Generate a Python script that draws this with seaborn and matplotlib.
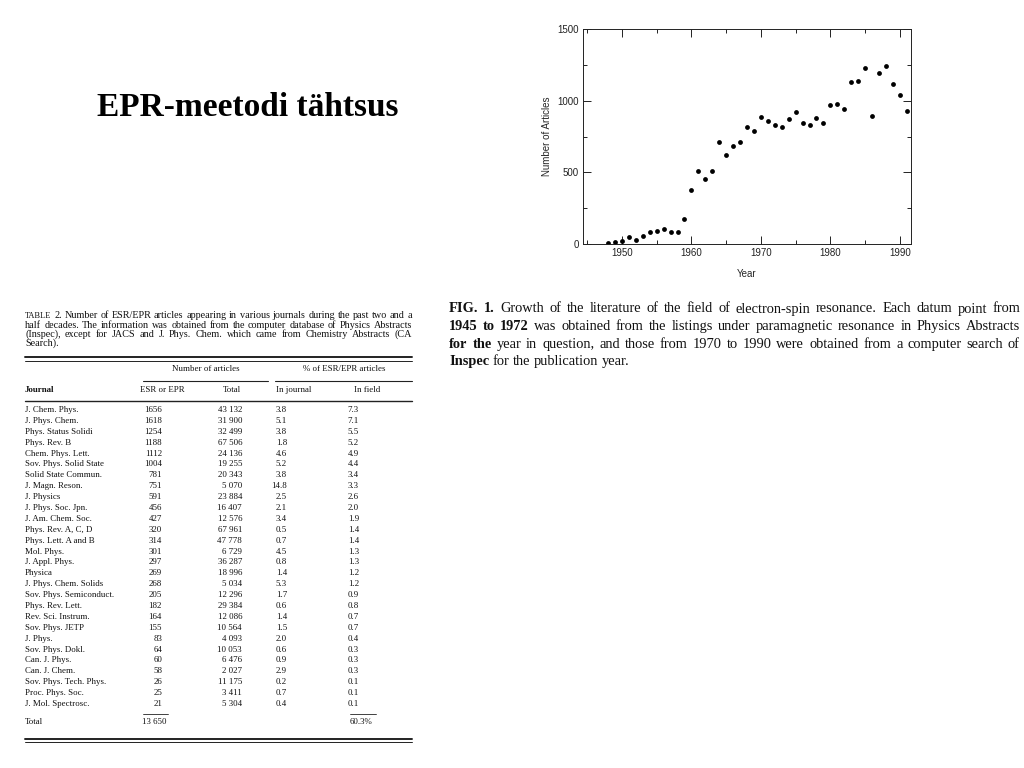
import matplotlib
matplotlib.use("Agg")
import matplotlib.pyplot as plt
from matplotlib.lines import Line2D
from matplotlib.ticker import MultipleLocator
import seaborn as sns
import pandas as pd

# --- data ---
years = list(range(1948, 1992))
articles = [5, 14, 19, 46, 30, 53, 86, 90, 104, 86, 86, 176, 378, 511, 455, 508,
            710, 622, 685, 713, 813, 787, 887, 861, 831, 817, 875, 919, 847, 827,
            882, 843, 973, 975, 940, 1128, 1135, 1231, 892, 1196, 1244, 1117, 1038, 931]

journals = ["J. Chem. Phys.", "J. Phys. Chem.", "Phys. Status Solidi", "Phys. Rev. B",
            "Chem. Phys. Lett.", "Sov. Phys. Solid State", "Solid State Commun.",
            "J. Magn. Reson.", "J. Physics", "J. Phys. Soc. Jpn.", "J. Am. Chem. Soc.",
            "Phys. Rev. A, C, D", "Phys. Lett. A and B", "Mol. Phys.", "J. Appl. Phys.",
            "Physica", "J. Phys. Chem. Solids", "Sov. Phys. Semiconduct.",
            "Phys. Rev. Lett.", "Rev. Sci. Instrum.", "Sov. Phys. JETP", "J. Phys.",
            "Sov. Phys. Dokl.", "Can. J. Phys.", "Can. J. Chem.", "Sov. Phys. Tech. Phys.",
            "Proc. Phys. Soc.", "J. Mol. Spectrosc."]
esr_counts = [1656, 1618, 1254, 1188, 1112, 1004, 781, 751, 591, 456, 427, 320, 314,
              301, 297, 269, 268, 205, 182, 164, 155, 83, 64, 60, 58, 26, 25, 21]
total_articles = [43132, 31900, 32499, 67506, 24136, 19255, 20343, 5070, 23884, 16407,
                  12576, 67961, 47778, 6729, 36287, 18996, 5034, 12296, 29384, 12086,
                  10564, 4093, 10053, 6476, 2027, 11175, 3411, 5304]
pct_journal = [3.8, 5.1, 3.8, 1.8, 4.6, 5.2, 3.8, 14.8, 2.5, 2.1, 3.4, 0.5, 0.7, 4.5,
               0.8, 1.4, 5.3, 1.7, 0.6, 1.4, 1.5, 2.0, 0.6, 0.9, 2.9, 0.2, 0.7, 0.4]
pct_field = [7.3, 7.1, 5.5, 5.2, 4.9, 4.4, 3.4, 3.3, 2.6, 2.0, 1.9, 1.4, 1.4, 1.3, 1.3,
             1.2, 1.2, 0.9, 0.8, 0.7, 0.7, 0.4, 0.3, 0.3, 0.3, 0.1, 0.1, 0.1]
field_total = "60.3%"

title = "EPR-meetodi tähtsus"
# "*" marks a bold word, "^" a small-caps word
table_caption = [
    "^TABLE 2.  Number of ESR/EPR articles appearing in various journals during the past two and a",
    "half decades. The information was obtained from the computer database of Physics Abstracts",
    "(Inspec), except for JACS and J. Phys. Chem. which came from Chemistry Abstracts (CA",
    "Search).",
]
fig_caption = [
    "*FIG. *1.  Growth of the literature of the field of electron-spin resonance. Each datum point from",
    "*1945 *to *1972 was obtained from the listings under paramagnetic resonance in Physics Abstracts",
    "*for *the year in question, and those from 1970 to 1990 were obtained from a computer search of",
    "*Inspec for the publication year.",
]

sns.set_style("ticks")
plt.rcParams["font.family"] = ["Liberation Serif", "DejaVu Serif"]

W, H = 1024, 768
fig = plt.figure(figsize=(W / 100, H / 100), dpi=100)
SERIF = ["Liberation Serif", "DejaVu Serif"]
SANS = ["Liberation Sans", "DejaVu Sans"]


def fx(x):
    return x / W


def fy(y):
    return 1 - y / H


def text(x, y, s, size=6.4, ha="left", weight="normal"):
    fig.text(fx(x), fy(y), s, ha=ha, va="center", fontsize=size,
             family=SERIF, weight=weight, color="#111111")


def hline(x0, x1, y, lw=0.8):
    fig.add_artist(Line2D([fx(x0), fx(x1)], [fy(y), fy(y)], lw=lw,
                          color="#222222", transform=fig.transFigure))


def justified(lines, x0, x1, y0, dy, size):
    r = fig.canvas.get_renderer()
    for i, line in enumerate(lines):
        words = [w for w in line.split(" ") if w != ""]
        items = []
        for w in words:
            bold = w.startswith("*")
            small = w.startswith("^")
            w = w.lstrip("*^")
            t = fig.text(0, 0, w, fontsize=size * (0.82 if small else 1.0),
                         family=SERIF, va="center",
                         weight="bold" if bold else "normal", color="#111111")
            items.append((t, t.get_window_extent(r).width))
        total = sum(wd for _, wd in items)
        last = i == len(lines) - 1
        gap = size * 0.33 if last else (x1 - x0 - total) / max(len(items) - 1, 1)
        x = x0
        for t, wd in items:
            t.set_position((fx(x), fy(y0 + i * dy)))
            x += wd + gap


# --- title ---
fig.text(fx(248), fy(107), title, ha="center", va="center", fontsize=24,
         family=SERIF, weight="bold", color="black")

# --- scatter plot ---
ax = fig.add_axes([fx(583), fy(244), fx(911) - fx(583), fy(29) - fy(244)])
df = pd.DataFrame({"Year": years, "Number of Articles": articles})
sns.scatterplot(data=df, x="Year", y="Number of Articles", ax=ax, color="black",
                s=12, edgecolor="black", linewidth=0)
ax.set_xlim(1944.4, 1991.6)
ax.set_ylim(0, 1500)
ax.xaxis.set_major_locator(MultipleLocator(10))
ax.xaxis.set_minor_locator(MultipleLocator(5))
ax.yaxis.set_major_locator(MultipleLocator(500))
ax.yaxis.set_minor_locator(MultipleLocator(250))
ax.tick_params(which="both", direction="in", top=True, right=True, width=0.7,
               labelsize=7, pad=3, colors="#222222")
ax.tick_params(which="major", length=6)
ax.tick_params(which="minor", length=3)
for lab in ax.get_xticklabels() + ax.get_yticklabels():
    lab.set_family(SANS)
for sp in ax.spines.values():
    sp.set_linewidth(0.7)
    sp.set_color("#222222")
ax.set_xlabel("Year", fontsize=7, family=SANS, labelpad=8)
ax.set_ylabel("Number of Articles", fontsize=7, family=SANS, labelpad=4)

# --- figure caption ---
justified(fig_caption, 449, 1020, 309, 17.5, 10.4)

# --- table ---
justified(table_caption, 25, 412, 316, 9.2, 7.3)
hline(25, 412, 357, 1.4)
hline(25, 412, 360.5, 0.7)
text(206, 369, "Number of articles", ha="center")
text(344, 369, "% of ESR/EPR articles", ha="center")
hline(143, 268, 381, 0.8)
hline(275, 412, 381, 0.8)
text(25, 390, "Journal", weight="bold")
text(162, 390, "ESR or EPR", ha="center")
text(232, 390, "Total", ha="center")
text(294, 390, "In journal", ha="center")
text(367, 390, "In field", ha="center")
hline(25, 412, 401, 1.0)

row0, row_dy = 410, (704 - 410) / (len(journals) - 1)
for i, name in enumerate(journals):
    y = row0 + i * row_dy
    text(25, y, name)
    text(162, y, str(esr_counts[i]), ha="right")
    text(242, y, f"{total_articles[i]:,}".replace(",", " "), ha="right")
    text(287, y, f"{pct_journal[i]:.1f}", ha="right")
    text(359, y, f"{pct_field[i]:.1f}", ha="right")

hline(143, 168, 714, 0.6)
hline(350, 376, 714, 0.6)
text(25, 722, "Total")
text(166, 722, f"{sum(esr_counts):,}".replace(",", " "), ha="right")
text(350, 722, field_total)
hline(25, 412, 738.5, 1.4)
hline(25, 412, 741.5, 0.7)

fig.savefig("out.png", dpi=100)
